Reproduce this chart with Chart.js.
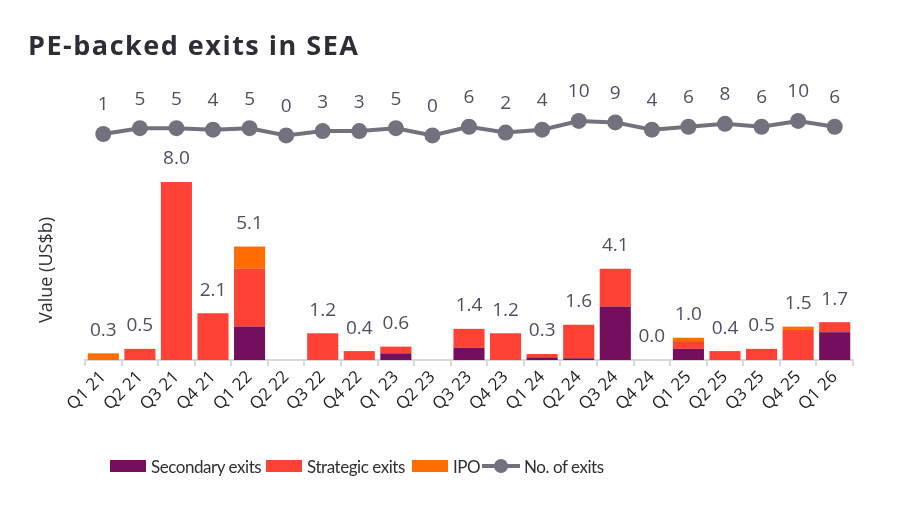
<!DOCTYPE html>
<html lang="en">
<head>
  <meta charset="UTF-8" />
  <title>PE-backed exits in SEA</title>
  <script src="https://cdn.jsdelivr.net/npm/chart.js@4.4.1/dist/chart.umd.min.js"></script>
  <style>
    html,body{margin:0;padding:0;background:#fff}
    #wrap{position:relative;width:900px;height:515px;color:#2e2e38}
    #title{position:absolute;left:28px;top:26px;font:700 27px "Open Sans",sans-serif;color:#2e2e38;letter-spacing:1.5px}
    #ytitle{position:absolute;left:45px;top:270px;transform:translate(-50%,-50%) rotate(-90deg);font:18px "Open Sans",sans-serif;white-space:nowrap}
    #legend{position:absolute;left:0;top:454px;width:900px;height:24px;font:17px Lato,sans-serif;letter-spacing:-0.45px;white-space:nowrap}
    .item{position:absolute;top:0;display:flex;align-items:center;height:24px}
    .sw{display:inline-block;width:36px;height:12px;margin-right:5px}
    .ln{position:relative;width:38px;height:14px;margin-right:4px}
    .ln:before{content:"";position:absolute;left:0;right:0;top:5px;height:4px;background:#72727f}
    .ln:after{content:"";position:absolute;left:12px;top:0;width:14px;height:14px;border-radius:50%;background:#72727f}
  </style>
</head>
<body>
<div id="wrap">
  <div id="title">PE-backed exits in SEA</div>
  <div id="ytitle">Value (US$b)</div>
  <canvas id="chart" width="900" height="515"></canvas>
  <div id="legend">
    <span class="item" style="left:110px"><span class="sw" style="background:#750e5c"></span>Secondary exits</span>
    <span class="item" style="left:266px"><span class="sw" style="background:#ff4136"></span>Strategic exits</span>
    <span class="item" style="left:412px"><span class="sw" style="background:#ff6d00"></span>IPO</span>
    <span class="item" style="left:482px"><span class="ln"></span>No. of exits</span>
  </div>
</div>
<script>
  const categories = ['Q1 21','Q2 21','Q3 21','Q4 21','Q1 22','Q2 22','Q3 22','Q4 22','Q1 23','Q2 23','Q3 23',
    'Q4 23','Q1 24','Q2 24','Q3 24','Q4 24','Q1 25','Q2 25','Q3 25','Q4 25','Q1 26'];
  // null = no exits that quarter (no value label shown)
  const secondary = [0,0,0,0,1.5,null,0,0,0.3,null,0.55,0,0.12,0.08,2.4,0,0.5,0,0,0,1.25];
  const strategic = [0,0.5,8.0,2.1,2.6,null,1.2,0.4,0.3,null,0.85,1.2,0.15,1.5,1.7,0,0.35,0.4,0.5,1.35,0.45];
  const ipo = [0.3,0,0,0,1.0,null,0,0,0,null,0,0,0,0,0,0,0.15,0,0,0.15,0];
  const exits = [1,5,5,4,5,0,3,3,5,0,6,2,4,10,9,4,6,8,6,10,6];

  const LABEL_FONT = '19px "Open Sans"';
  const LABEL_COLOR = '#505063';

  const valueLabels = {
    id: 'valueLabels',
    afterDatasetsDraw(chart){
      const {ctx, scales:{x, y, y2}} = chart;
      ctx.save();
      ctx.font = LABEL_FONT;
      ctx.fillStyle = LABEL_COLOR;
      ctx.textAlign = 'center';
      ctx.textBaseline = 'middle';
      categories.forEach((c, i)=>{
        const px = x.getPixelForValue(i);
        if (secondary[i] !== null) {
          const total = secondary[i] + strategic[i] + ipo[i];
          ctx.fillText(total.toFixed(1), px, y.getPixelForValue(total) - 23);
        }
        ctx.fillText(String(exits[i]), px, y2.getPixelForValue(exits[i]) - 29);
      });
      ctx.restore();
    }
  };

  const bar = (label, data, color)=>({
    type:'bar', label, data, backgroundColor:color, borderWidth:0,
    barPercentage:0.85, categoryPercentage:1, yAxisID:'y', order:1
  });

  new Chart(document.getElementById('chart'), {
    data:{
      labels:categories,
      datasets:[
        bar('Secondary exits', secondary, '#750e5c'),
        bar('Strategic exits', strategic, '#ff4136'),
        bar('IPO', ipo, '#ff6d00'),
        {type:'line', label:'No. of exits', data:exits, yAxisID:'y2', order:0,
         borderColor:'#72727f', borderWidth:4, pointRadius:8, pointBackgroundColor:'#72727f',
         pointBorderWidth:0, tension:0}
      ]
    },
    options:{
      responsive:false,
      animation:false,
      layout:{padding:{top:95, left:85, right:47, bottom:85}},
      plugins:{legend:{display:false}, tooltip:{enabled:false}},
      scales:{
        x:{
          stacked:true,
          grid:{offset:true, drawOnChartArea:false, tickLength:6, color:'#d8d8e0', lineWidth:2},
          border:{color:'#d8d8e0', width:2},
          ticks:{font:{family:'Open Sans', size:17}, color:'#1e1e28', minRotation:45, maxRotation:45, padding:1},
          afterFit(scale){ scale.height = 70; }
        },
        y:{stacked:true, display:false, min:0, max:11.91},
        y2:{display:false, min:-154.9, max:27.9}
      }
    },
    plugins:[valueLabels]
  });
</script>
</body>
</html>
